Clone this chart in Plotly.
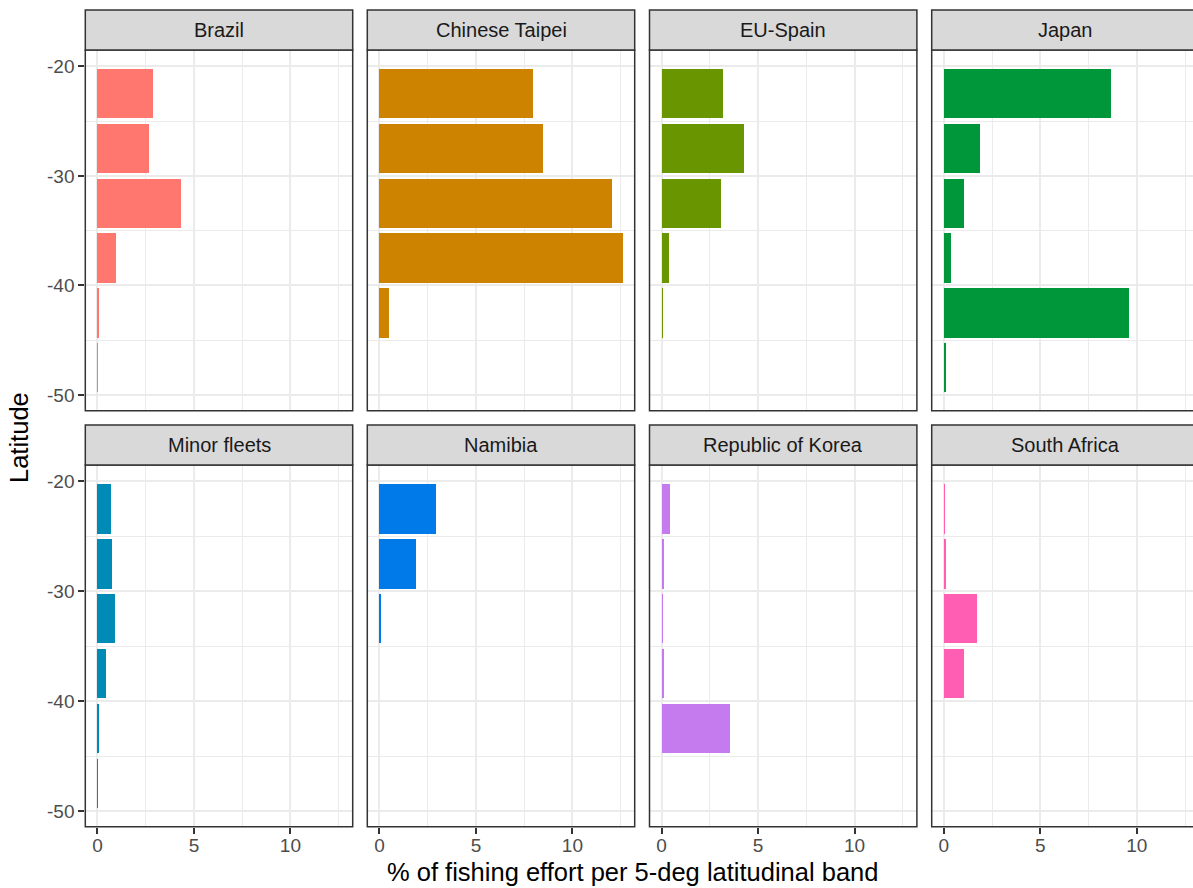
import plotly.graph_objects as go

# Fishing effort (%) per 5-degree latitudinal band, by fleet
fleets = ["Brazil", "Chinese Taipei", "EU-Spain", "Japan",
          "Minor fleets", "Namibia", "Republic of Korea", "South Africa"]
latitude_bands = [-22.5, -27.5, -32.5, -37.5, -42.5, -47.5]

brazil = [2.90, 2.67, 4.33, 0.98, 0.10, 0.03]
chinese_taipei = [7.97, 8.50, 12.09, 12.64, 0.52, 0.0]
eu_spain = [3.17, 4.24, 3.07, 0.33, 0.03, 0.0]
japan = [8.64, 1.85, 1.02, 0.36, 9.60, 0.10]
minor_fleets = [0.72, 0.78, 0.91, 0.47, 0.07, 0.02]
namibia = [2.97, 1.90, 0.07, 0.0, 0.0, 0.0]
republic_of_korea = [0.41, 0.10, 0.03, 0.07, 3.53, 0.0]
south_africa = [0.03, 0.12, 1.72, 1.02, 0.0, 0.0]

effort = [brazil, chinese_taipei, eu_spain, japan,
          minor_fleets, namibia, republic_of_korea, south_africa]
colors = ["#FF776E", "#CD8200", "#699600", "#00963A",
          "#008AB6", "#007AE8", "#C57AEE", "#FF5EB2"]

x_ticks = [0, 5, 10]
x_tick_labels = ["0", "5", "10"]
y_ticks = [-20, -30, -40, -50]
y_tick_labels = ["-20", "-30", "-40", "-50"]

W, H = 1193, 888
FONT = "Arial, Liberation Sans, Helvetica, sans-serif"

col_left = [85.3, 367.3, 649.5, 931.7]
panel_w = 267.4
row_top = [50.0, 465.0]
row_bot = [410.7, 826.7]
strip_h = 40.0
x_min, x_max = -0.63, 13.23
px_per_unit = panel_w / (x_max - x_min)
y_range = [-51.43, -18.51]


def fx(px):
    return px / W


def fy(py):
    return 1 - py / H


fig = go.Figure()
layout = dict(
    width=W, height=H,
    margin=dict(l=0, r=0, t=0, b=0),
    paper_bgcolor="white", plot_bgcolor="white",
    showlegend=False, bargap=0,
    font=dict(family=FONT),
)
shapes = []
annotations = []

for i, (name, vals, col) in enumerate(zip(fleets, effort, colors)):
    r, c = divmod(i, 4)
    n = i + 1
    xa = "x" if n == 1 else f"x{n}"
    ya = "y" if n == 1 else f"y{n}"
    fig.add_trace(go.Bar(
        x=vals, y=latitude_bands, orientation="h", width=4.5,
        marker=dict(color=col, line=dict(width=0)),
        xaxis=xa, yaxis=ya, name=name,
        hovertemplate="%{y}: %{x}<extra>" + name + "</extra>",
    ))

    left = col_left[c]
    right = min(left + panel_w, W)
    xr = [x_min, x_min + (right - left) / px_per_unit]

    layout["xaxis" if n == 1 else f"xaxis{n}"] = dict(
        domain=[fx(left), fx(right)], range=xr, anchor=ya,
        tickvals=x_ticks, ticktext=x_tick_labels,
        showgrid=True, gridcolor="#EBEBEB", gridwidth=2,
        minor=dict(dtick=2.5, tick0=0, showgrid=True, gridcolor="#EBEBEB",
                   gridwidth=1),
        zeroline=False, showline=False,
        ticks="outside" if r == 1 else "", ticklen=6, tickwidth=1.5,
        tickcolor="#333333", showticklabels=(r == 1),
        ticklabelstandoff=-5,
        tickfont=dict(size=19, color="#4D4D4D", family=FONT),
        fixedrange=True,
    )
    layout["yaxis" if n == 1 else f"yaxis{n}"] = dict(
        domain=[fy(row_bot[r]), fy(row_top[r])], range=y_range, anchor=xa,
        tickvals=y_ticks, ticktext=y_tick_labels,
        showgrid=True, gridcolor="#EBEBEB", gridwidth=2,
        minor=dict(dtick=5, tick0=-50, showgrid=True, gridcolor="#EBEBEB",
                   gridwidth=1),
        zeroline=False, showline=False,
        ticks="outside" if c == 0 else "", ticklen=6, tickwidth=1.5,
        tickcolor="#333333", showticklabels=(c == 0),
        tickfont=dict(size=19, color="#4D4D4D", family=FONT),
        fixedrange=True,
    )

    # panel border and facet strip
    x1 = fx(left + panel_w) if c < 3 else 1.02
    shapes.append(dict(type="rect", xref="paper", yref="paper",
                       x0=fx(left), x1=x1, y0=fy(row_bot[r]), y1=fy(row_top[r]),
                       line=dict(color="#333333", width=1.5),
                       fillcolor="rgba(0,0,0,0)", layer="above"))
    shapes.append(dict(type="rect", xref="paper", yref="paper",
                       x0=fx(left), x1=x1,
                       y0=fy(row_top[r]), y1=fy(row_top[r] - strip_h),
                       line=dict(color="#333333", width=1.5),
                       fillcolor="#D9D9D9", layer="above"))
    annotations.append(dict(
        text=name, xref="paper", yref="paper",
        x=fx(left + panel_w / 2), y=fy(row_top[r] - strip_h / 2),
        xanchor="center", yanchor="middle", showarrow=False,
        font=dict(size=20, color="#1A1A1A", family=FONT),
    ))

annotations.append(dict(
    text="% of fishing effort per 5-deg latitudinal band",
    xref="paper", yref="paper", x=fx(632), y=fy(872),
    xanchor="center", yanchor="middle", showarrow=False,
    font=dict(size=25.5, color="black", family=FONT),
))
annotations.append(dict(
    text="Latitude", xref="paper", yref="paper", x=fx(19), y=fy(438),
    xanchor="center", yanchor="middle", showarrow=False, textangle=-90,
    font=dict(size=25.5, color="black", family=FONT),
))

layout["shapes"] = shapes
layout["annotations"] = annotations
fig.update_layout(**layout)
fig.write_html("out.html", config={"displayModeBar": False})
